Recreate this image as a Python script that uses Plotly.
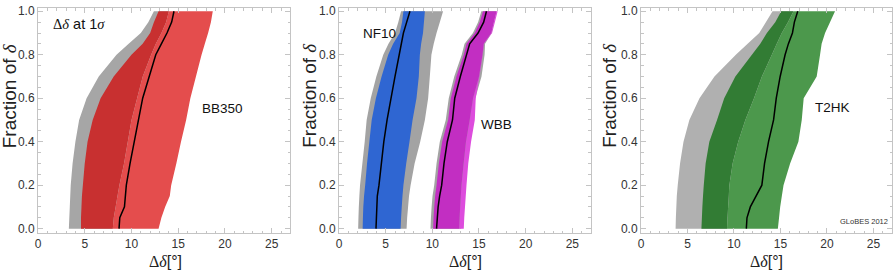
import plotly.graph_objects as go

# Fraction-of-delta grid (shared by all bands)
frac = [0, 0.05, 0.1, 0.15, 0.2, 0.3, 0.4, 0.5, 0.6, 0.7, 0.8, 0.85, 0.9, 0.95, 1.0]

# ---- BB350 (panel 1)
bb_gray_lo = [3.3, 3.35, 3.4, 3.45, 3.5, 3.7, 4.0, 4.4, 5.2, 6.5, 8.4, 9.7, 11.0, 11.8, 12.4]
bb_dark_lo = [4.6, 4.6, 4.65, 4.7, 4.8, 5.0, 5.3, 5.85, 6.7, 8.1, 10.0, 11.2, 12.0, 12.4, 12.9]
bb_dark_hi = [8.0, 8.1, 8.3, 8.5, 8.7, 9.2, 9.6, 10.0, 10.6, 11.2, 12.1, 12.6, 13.2, 13.7, 14.0]
bb_light_hi = [12.9, 13.2, 13.6, 14.1, 14.25, 14.8, 15.3, 15.85, 16.3, 16.9, 17.5, 17.85, 18.2, 18.5, 18.7]
bb_line = [8.67, 8.75, 9.25, 9.35, 9.45, 9.85, 10.3, 10.7, 11.2, 11.9, 12.6, 13.2, 13.8, 14.3, 14.55]

# ---- NF10 (panel 2)
nf_gray_lo = [2.05, 2.08, 2.12, 2.18, 2.25, 2.5, 2.75, 2.96, 3.4, 4.0, 4.74, 5.3, 6.0, 6.35, 6.65]
nf_gray_hi = [7.24, 7.3, 7.4, 7.5, 7.67, 8.1, 8.7, 9.2, 9.55, 9.73, 9.9, 10.15, 10.45, 10.8, 11.15]
nf_dark_lo = [2.53, 2.56, 2.6, 2.68, 2.8, 3.0, 3.25, 3.5, 3.95, 4.56, 5.27, 5.8, 6.5, 6.75, 6.9]
nf_dark_hi = [6.6, 6.65, 6.72, 6.8, 6.9, 7.2, 7.55, 7.88, 8.3, 8.55, 8.66, 8.8, 9.0, 9.1, 9.2]
nf_line = [3.96, 3.98, 4.02, 4.1, 4.28, 4.5, 4.8, 5.15, 5.55, 6.0, 6.45, 6.7, 6.9, 7.25, 7.6]

# ---- WBB (panel 2)
wb_gray_lo = [9.8, 9.85, 9.92, 10.02, 10.2, 10.45, 10.8, 11.44, 11.76, 12.35, 13.15, 13.45, 14.35, 14.9, 15.25]
wb_gray_hi = [13.1, 13.15, 13.2, 13.3, 13.4, 13.6, 13.9, 14.3, 14.6, 15.27, 15.6, 15.65, 16.35, 16.6, 16.9]
wb_dark_lo = [10.08, 10.13, 10.2, 10.3, 10.45, 10.7, 11.05, 11.69, 11.98, 12.58, 13.37, 13.66, 14.55, 15.08, 15.43]
wb_dark_hi = [12.87, 12.92, 12.98, 13.05, 13.12, 13.35, 13.6, 14.0, 14.36, 15.0, 15.37, 15.5, 16.3, 16.58, 16.87]
wb_light_hi = [13.37, 13.42, 13.5, 13.58, 13.66, 13.85, 14.15, 14.55, 14.65, 15.05, 15.4, 15.55, 16.4, 16.7, 17.0]
wb_line = [10.45, 10.5, 10.62, 10.78, 11.0, 11.25, 11.6, 12.16, 12.4, 13.0, 13.72, 14.0, 14.9, 15.5, 15.8]

# ---- T2HK (panel 3)
t2_frac = [0, 0.05, 0.1, 0.15, 0.2, 0.3, 0.4, 0.5, 0.6, 0.7, 0.8, 0.85, 0.9, 0.95, 1.0]
t2_gray_lo = [3.72, 3.75, 3.8, 3.85, 3.95, 4.2, 4.57, 5.2, 6.29, 7.9, 10.2, 11.47, 12.72, 13.43, 14.15]
t2_dark_lo = [6.5, 6.55, 6.6, 6.67, 6.75, 6.95, 7.35, 8.18, 8.95, 10.15, 11.93, 12.83, 13.54, 14.44, 15.08]
t2_dark_hi = [9.25, 9.3, 9.37, 9.44, 9.5, 9.85, 10.45, 11.22, 12.15, 13.0, 14.07, 14.6, 15.14, 15.8, 16.4]
t2_light_hi = [14.72, 14.85, 14.97, 15.15, 15.33, 16.04, 16.93, 17.29, 17.5, 18.9, 19.26, 19.43, 19.8, 20.33, 20.87]
t2_line = [11.33, 11.4, 11.76, 12.36, 13.0, 13.29, 13.72, 14.26, 14.55, 14.97, 15.5, 15.85, 16.29, 16.5, 16.86]

x_ticks = [0, 5, 10, 15, 20, 25]
y_ticks = [0.0, 0.2, 0.4, 0.6, 0.8, 1.0]

fig = go.Figure()


def band(lo, hi, color, ax):
    xs = list(lo) + list(hi)[::-1]
    ys = list(frac) + list(frac)[::-1]
    fig.add_trace(go.Scatter(x=xs, y=ys, fill="toself", fillcolor=color, mode="none",
                             line=dict(width=0), hoverinfo="skip", showlegend=False,
                             xaxis="x" + ax, yaxis="y" + ax))


def curve(xv, ax):
    fig.add_trace(go.Scatter(x=xv, y=frac, mode="lines", line=dict(color="black", width=1.5),
                             hoverinfo="skip", showlegend=False, xaxis="x" + ax, yaxis="y" + ax))


# panel 1
band(bb_gray_lo, bb_dark_hi, "#A6A6A6", "")
band(bb_dark_hi, bb_light_hi, "#E44D4D", "")
band(bb_dark_lo, bb_dark_hi, "#C83030", "")
curve(bb_line, "")
# panel 2
band(nf_gray_lo, nf_gray_hi, "#A3A3A3", "2")
band(nf_dark_lo, nf_dark_hi, "#2F66D2", "2")
curve(nf_line, "2")
band(wb_gray_lo, wb_gray_hi, "#A3A3A3", "2")
band(wb_dark_hi, wb_light_hi, "#DD4CDD", "2")
band(wb_dark_lo, wb_dark_hi, "#C22EC2", "2")
curve(wb_line, "2")
# panel 3
band(t2_gray_lo, t2_dark_hi, "#B0B0B0", "3")
band(t2_dark_hi, t2_light_hi, "#4C984C", "3")
band(t2_dark_lo, t2_dark_hi, "#327C34", "3")
curve(t2_line, "3")

FRAME = "#C4C4C4"
TICKFONT = dict(family="Liberation Sans, Arial, sans-serif", size=12, color="#333333")


def xax(domain, anchor):
    return dict(domain=domain, anchor=anchor, range=[0, 27], tickmode="array", tickvals=x_ticks,
                ticks="inside", ticklen=5, tickcolor=FRAME, showline=True, linecolor=FRAME,
                linewidth=1, mirror="allticks", showgrid=False, zeroline=False, tickfont=TICKFONT,
                minor=dict(tickmode="linear", tick0=0, dtick=1, ticks="inside", ticklen=2.5,
                           tickcolor=FRAME, showgrid=False))


def yax(anchor):
    return dict(domain=[0, 1], anchor=anchor, range=[-0.02, 1.015], tickmode="array",
                tickvals=y_ticks, ticktext=[f"{v:.1f}" for v in y_ticks],
                ticks="inside", ticklen=5, tickcolor=FRAME, showline=True, linecolor=FRAME,
                linewidth=1, mirror="allticks", showgrid=False, zeroline=False, tickfont=TICKFONT,
                minor=dict(tickmode="linear", tick0=0, dtick=0.05, ticks="inside", ticklen=2.5,
                           tickcolor=FRAME, showgrid=False))


fig.update_layout(
    width=893, height=274,
    margin=dict(l=38, r=1, t=8, b=41),
    plot_bgcolor="white", paper_bgcolor="white",
    showlegend=False,
    xaxis=xax([0.0, 0.2955], "y"), yaxis=yax("x"),
    xaxis2=xax([0.3525, 0.6475], "y2"), yaxis2=yax("x2"),
    xaxis3=xax([0.7061, 1.0], "y3"), yaxis3=yax("x3"),
)

FONT = "Liberation Sans, Arial, sans-serif"
SERIF = "font-family:'Liberation Serif','DejaVu Serif',serif"
DD = f"<span style=\"{SERIF}\">Δ<i>δ</i></span>"
ann = []
# axis titles
for xc_px in [9.5, 310, 610]:
    ann.append(dict(text=f"Fraction of <span style=\"{SERIF}\"><i>δ</i></span>", x=(xc_px - 38) / 854,
                    y=0.61, xref="paper", yref="paper",
                    textangle=-90, showarrow=False, xanchor="center", yanchor="middle",
                    font=dict(family=FONT, size=19, color="#222222")))
for xc_px in [165.5, 465, 766]:
    ann.append(dict(text=f"{DD}[°]", x=(xc_px - 38) / 854, y=-0.125, xref="paper", yref="paper",
                    showarrow=False, xanchor="center", yanchor="middle",
                    font=dict(family=FONT, size=16, color="#222222")))
# labels
ann.append(dict(text=f"{DD} at 1<span style=\"{SERIF}\"><i>σ</i></span>", x=1.4, y=0.94, xref="x", yref="y",
                showarrow=False, xanchor="left", yanchor="middle",
                font=dict(family=FONT, size=14.5, color="#111111")))
ann.append(dict(text="BB350", x=17.3, y=0.555, xref="x", yref="y", showarrow=False,
                xanchor="left", yanchor="middle", font=dict(family=FONT, size=13.5, color="#111111")))
ann.append(dict(text="NF10", x=2.4, y=0.9, xref="x2", yref="y2", showarrow=False,
                xanchor="left", yanchor="middle", font=dict(family=FONT, size=13.5, color="#111111")))
ann.append(dict(text="WBB", x=15.0, y=0.477, xref="x2", yref="y2", showarrow=False,
                xanchor="left", yanchor="middle", font=dict(family=FONT, size=13.5, color="#111111")))
ann.append(dict(text="T2HK", x=18.5, y=0.558, xref="x3", yref="y3", showarrow=False,
                xanchor="left", yanchor="middle", font=dict(family=FONT, size=13.5, color="#111111")))
ann.append(dict(text="GLoBES 2012", x=21.2, y=0.035, xref="x3", yref="y3", showarrow=False,
                xanchor="left", yanchor="middle", font=dict(family=FONT, size=7.5, color="#333333")))
fig.update_layout(annotations=ann)

fig.write_html("out.html", config={"displayModeBar": False},
               post_script="document.body.style.margin='0';document.body.style.overflow='hidden';")
